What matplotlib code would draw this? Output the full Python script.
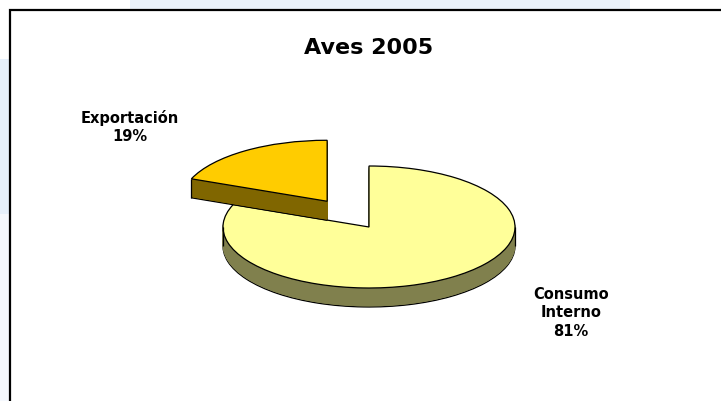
import matplotlib
matplotlib.use("Agg")
import matplotlib.pyplot as plt
from matplotlib.patches import Rectangle
import numpy as np

# ---- data ----
title = "Aves 2005"
categories = ["Exportación", "Consumo\nInterno"]
values = [19, 81]
top_colors = ["#FFCC00", "#FFFF99"]
side_colors = ["#806600", "#80804D"]
explode = [0.51, 0.0]

W, H = 721, 402
fig = plt.figure(figsize=(W / 100, H / 100), dpi=100)
fig.patch.set_facecolor("white")

# background axes in pixel coordinates
bg = fig.add_axes([0, 0, 1, 1])
bg.set_xlim(0, W)
bg.set_ylim(H, 0)
bg.axis("off")
# faint watermark strips outside the chart frame
bg.add_patch(Rectangle((130, 0), 500, 11, facecolor="#EAF2FB", edgecolor="none", zorder=0))
bg.add_patch(Rectangle((0, 60), 10, 155, facecolor="#E6F0FB", edgecolor="none", zorder=0))
bg.add_patch(Rectangle((0, 215), 10, 190, facecolor="#F5F8FD", edgecolor="none", zorder=0))
bg.add_patch(Rectangle((10, 11), W + 20, H + 20, facecolor="white",
                       edgecolor="black", linewidth=1.6, zorder=0.5))

# pie axes: unit radius -> rx px horizontally, ry px vertically
cx, cy = 369, 228          # pixel centre of top surface (from top)
rx, ry = 146, 61
depth_px = 19
ax = fig.add_axes([0, 0, 1, 1])
ax.patch.set_alpha(0)
step = 1.0 / ry
n_layers = depth_px

top_wedges = None
for i in range(n_layers + 1):
    off = -(n_layers - i) * step
    is_top = i == n_layers
    is_bottom = i == 0
    cols = top_colors if is_top else side_colors
    wedges, _ = ax.pie(values, colors=cols, startangle=90, counterclock=True,
                       explode=explode, center=(0, off), radius=1.0,
                       wedgeprops=dict(linewidth=0.9 if (is_top or is_bottom) else 0.6,
                                       edgecolor="black" if (is_top or is_bottom) else None))
    for j, w in enumerate(wedges):
        if not (is_top or is_bottom):
            w.set_edgecolor(cols[j])
        w.set_zorder((2 if j == 0 else 1) + i * 0.001)
    if is_top:
        top_wedges = wedges

# vertical edges at the silhouette extremes
depth = n_layers * step
for j, w in enumerate(top_wedges):
    xc, yc = w.center
    if j == 1:
        xs = [xc - w.r, xc + w.r]
        ys = [yc, yc]
    else:
        a = np.deg2rad(w.theta2)
        xs = [xc + w.r * np.cos(a)]
        ys = [yc + w.r * np.sin(a)]
    for x0, y0 in zip(xs, ys):
        ax.plot([x0, x0], [y0, y0 - depth], color="black", lw=0.9,
                zorder=(2 if j == 0 else 1) + 0.1, solid_capstyle="butt")

ax.set_aspect("auto")
ax.set_xlim(-cx / rx, (W - cx) / rx)
ax.set_ylim(-(H - cy) / ry, cy / ry)
ax.axis("off")

# texts
bg.text(369, 48, title, ha="center", va="center", fontsize=16,
        fontweight="bold", family="DejaVu Sans", zorder=5)
label_pos = [(130, 127), (571, 313)]
for cat, val, (lx, ly) in zip(categories, values, label_pos):
    bg.text(lx, ly, f"{cat}\n{val}%", ha="center", va="center", fontsize=10.5,
            fontweight="bold", family="DejaVu Sans", linespacing=1.3, zorder=5)

fig.savefig("out.png", dpi=100, facecolor=fig.get_facecolor())
